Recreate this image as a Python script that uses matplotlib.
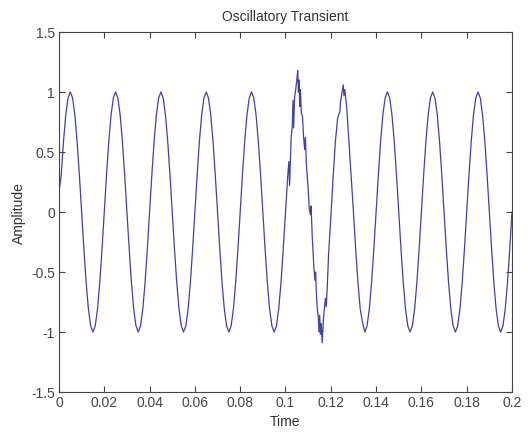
import numpy as np
import matplotlib
matplotlib.use("Agg")
import matplotlib.pyplot as plt

# Sampled signal, 1 ms steps before the disturbance
t_pre = np.arange(0, 100) * 0.001
amp_pre = [
    0.16, 0.31, 0.59, 0.81, 0.95, 1.00, 0.95, 0.81, 0.59, 0.31,
    0.00, -0.31, -0.59, -0.81, -0.95, -1.00, -0.95, -0.81, -0.59, -0.31,
    0.00, 0.31, 0.59, 0.81, 0.95, 1.00, 0.95, 0.81, 0.59, 0.31,
    0.00, -0.31, -0.59, -0.81, -0.95, -1.00, -0.95, -0.81, -0.59, -0.31,
    0.00, 0.31, 0.59, 0.81, 0.95, 1.00, 0.95, 0.81, 0.59, 0.31,
    0.00, -0.31, -0.59, -0.81, -0.95, -1.00, -0.95, -0.81, -0.59, -0.31,
    0.00, 0.31, 0.59, 0.81, 0.95, 1.00, 0.95, 0.81, 0.59, 0.31,
    0.00, -0.31, -0.59, -0.81, -0.95, -1.00, -0.95, -0.81, -0.59, -0.31,
    0.00, 0.31, 0.59, 0.81, 0.95, 1.00, 0.95, 0.81, 0.59, 0.31,
    0.00, -0.31, -0.59, -0.81, -0.95, -1.00, -0.95, -0.81, -0.59, -0.31,
]

# Oscillatory transient section (finer sampling)
t_tr = [
    0.1000, 0.1010, 0.1015, 0.1018, 0.1021, 0.1025, 0.1030, 0.1033, 0.1036,
    0.1040, 0.1045, 0.1050, 0.1054, 0.1057, 0.1060, 0.1063, 0.1066, 0.1070,
    0.1075, 0.1080, 0.1085, 0.1088, 0.1092, 0.1100, 0.1105, 0.1110, 0.1113,
    0.1118, 0.1125, 0.1130, 0.1133, 0.1136, 0.1140, 0.1145, 0.1148, 0.1151,
    0.1154, 0.1158, 0.1162, 0.1165, 0.1168, 0.1172, 0.1176, 0.1180, 0.1185,
    0.1190, 0.1200, 0.1210, 0.1220, 0.1230, 0.1240, 0.1243, 0.1250, 0.1255,
    0.1258, 0.1262, 0.1266, 0.1270, 0.1280, 0.1290, 0.1300,
]
amp_tr = [
    0.00, 0.30, 0.42, 0.22, 0.40, 0.62, 0.72, 0.93, 0.70,
    0.95, 1.02, 1.10, 1.18, 1.00, 1.10, 0.88, 1.02, 0.82,
    0.80, 0.62, 0.52, 0.62, 0.40, 0.20, 0.02, -0.02, 0.05,
    -0.20, -0.45, -0.57, -0.50, -0.66, -0.80, -0.88, -1.00, -0.86,
    -1.02, -0.93, -1.09, -0.98, -0.88, -0.80, -0.72, -0.79, -0.60,
    -0.36, -0.05, 0.28, 0.58, 0.78, 0.84, 0.92, 1.00, 1.06,
    0.97, 1.02, 0.94, 0.88, 0.59, 0.31, 0.00,
]

# After the disturbance, back to 1 ms steps
t_post = np.arange(131, 201) * 0.001
amp_post = [
    -0.31, -0.59, -0.81, -0.92, -1.00, -0.95, -0.81, -0.59, -0.31,
    0.00, 0.31, 0.59, 0.81, 0.95, 1.00, 0.95, 0.81, 0.59, 0.31,
    0.00, -0.31, -0.59, -0.81, -0.95, -1.00, -0.95, -0.81, -0.59, -0.31,
    0.00, 0.31, 0.59, 0.81, 0.95, 1.00, 0.95, 0.81, 0.59, 0.31,
    0.00, -0.31, -0.59, -0.81, -0.95, -1.00, -0.95, -0.81, -0.59, -0.31,
    0.00, 0.31, 0.59, 0.81, 0.95, 1.00, 0.95, 0.81, 0.59, 0.31,
    0.00, -0.31, -0.59, -0.81, -0.95, -1.00, -0.95, -0.81, -0.59, -0.31,
    0.00,
]

x_ticks = [0, 0.02, 0.04, 0.06, 0.08, 0.1, 0.12, 0.14, 0.16, 0.18, 0.2]
x_labels = ["0", "0.02", "0.04", "0.06", "0.08", "0.1", "0.12", "0.14", "0.16", "0.18", "0.2"]
y_ticks = [-1.5, -1, -0.5, 0, 0.5, 1, 1.5]
y_labels = ["-1.5", "-1", "-0.5", "0", "0.5", "1", "1.5"]

t = np.concatenate([t_pre, t_tr, t_post])
amp = np.concatenate([amp_pre, amp_tr, amp_post])

plt.rcParams["font.family"] = ["Liberation Sans", "DejaVu Sans"]

fig = plt.figure(figsize=(5.28, 4.35), dpi=100)
ax = fig.add_axes([0.1117, 0.0966, 0.858, 0.8276])
ax.plot(t, amp, color="#4040a8", linewidth=0.9)

ax.set_xlim(0, 0.2)
ax.set_ylim(-1.5, 1.5)
ax.set_xticks(x_ticks)
ax.set_xticklabels(x_labels)
ax.set_yticks(y_ticks)
ax.set_yticklabels(y_labels)
ax.tick_params(direction="in", length=4, width=0.8, top=True, right=True,
               labelsize=10, colors="#444444")
ax.tick_params(axis="x", pad=2.5)
ax.tick_params(axis="y", pad=3)
for s in ax.spines.values():
    s.set_linewidth(0.8)
    s.set_color("#444444")

ax.set_title("Oscillatory Transient", fontsize=10, color="#333333", pad=8.5)
ax.set_xlabel("Time", fontsize=10, color="#333333", labelpad=3.5)
ax.set_ylabel("Amplitude", fontsize=10, color="#333333", labelpad=3.5)

fig.savefig("out.png", dpi=100)
